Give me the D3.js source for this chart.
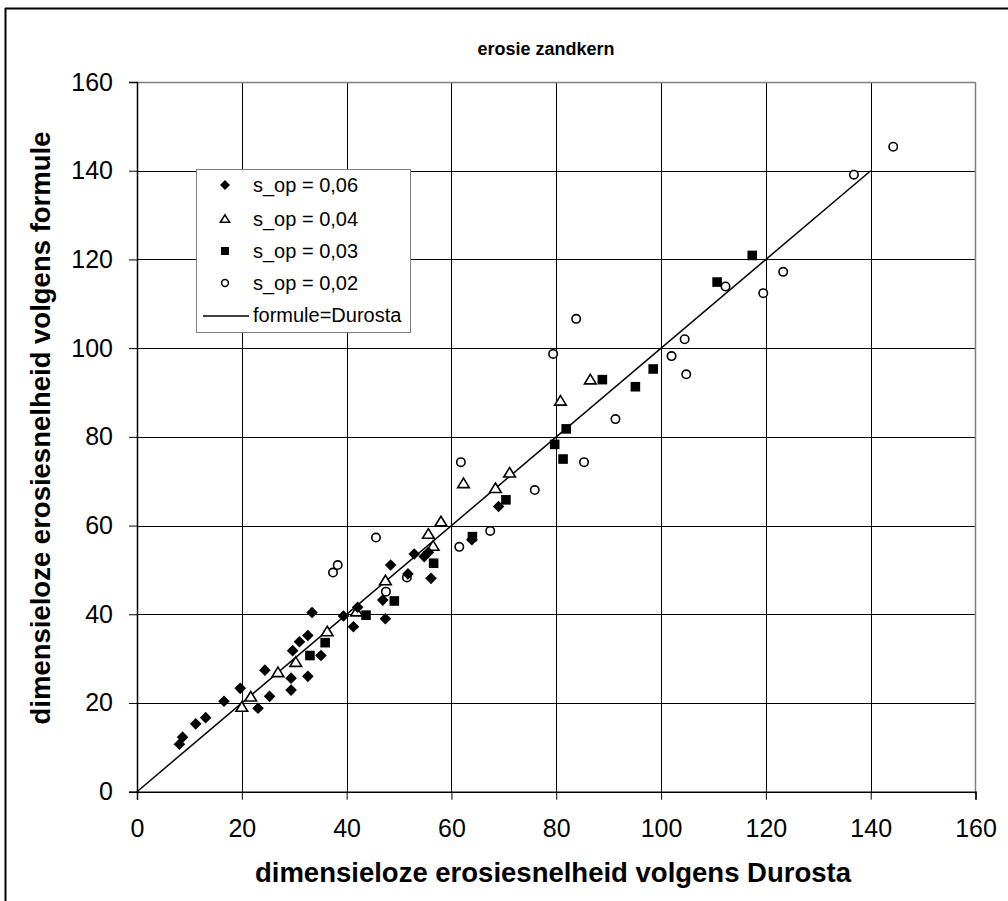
<!DOCTYPE html>
<html>
<head>
<meta charset="utf-8">
<script src="https://cdn.jsdelivr.net/npm/d3@7"></script>
<style>
  html, body { margin: 0; padding: 0; background: #fff; }
  svg { display: block; font-family: "Liberation Sans", Arial, sans-serif; }
</style>
</head>
<body>
<svg id="chart" width="1008" height="901"></svg>
<script>
// Dimensionless erosion rate: formula (y) versus Durosta (x), sand core
const s006 = [[8.1,10.7],[8.7,12.3],[11.2,15.3],[13.1,16.7],[16.6,20.4],[19.7,23.3],[23.1,18.8],[25.3,21.5],[24.4,27.4],[29.4,22.9],[29.4,25.6],[29.7,31.8],[31.0,33.8],[32.6,35.2],[33.4,40.4],[32.6,26.0],[35.1,30.7],[39.4,39.6],[41.3,37.2],[42.1,41.6],[47.4,39.0],[46.9,43.2],[48.4,51.1],[51.7,49.1],[52.9,53.6],[54.8,53.0],[55.6,54.0],[56.1,48.1],[63.9,56.8],[69.0,64.3]];
const s004 = [[20.0,19.1],[21.7,21.4],[26.9,26.9],[30.3,29.2],[36.3,36.1],[41.9,40.6],[47.4,47.6],[55.6,58.1],[56.5,55.4],[58.0,60.9],[62.3,69.5],[68.4,68.4],[71.1,71.9],[80.8,88.1],[86.5,92.9]];
const s003 = [[33.0,30.7],[35.9,33.6],[43.7,39.8],[49.1,43.0],[56.6,51.5],[64.0,57.5],[70.4,65.8],[79.7,78.3],[81.3,75.0],[81.9,81.8],[88.8,92.9],[95.1,91.3],[98.5,95.3],[110.7,114.9],[117.4,120.9]];
const s002 = [[37.4,49.4],[38.3,51.1],[45.6,57.3],[47.5,45.1],[51.5,48.3],[61.5,55.2],[67.4,58.8],[61.8,74.3],[75.9,68.0],[79.4,98.7],[83.8,106.6],[85.3,74.3],[91.3,84.0],[102.0,98.2],[104.5,102.0],[104.8,94.1],[112.3,113.9],[119.5,112.4],[123.3,117.2],[136.8,139.1],[144.3,145.4]];
const equalLine = [[0,0],[140,140]];
const xTicks = [0,20,40,60,80,100,120,140,160];
const yTicks = [0,20,40,60,80,100,120,140,160];
const legendLabels = ["s_op = 0,06","s_op = 0,04","s_op = 0,03","s_op = 0,02","formule=Durosta"];

const svg = d3.select("#chart");
const L = 137, R = 975.5, T = 82, B = 791.7;
const x = d3.scaleLinear().domain([0,160]).range([L,R]);
const y = d3.scaleLinear().domain([0,160]).range([B,T]);

// outer frame (left and top edges visible)
svg.append("line").attr("x1",5.5).attr("x2",5.5).attr("y1",8).attr("y2",901).attr("stroke","#000").attr("stroke-width",2);
svg.append("line").attr("x1",5).attr("x2",1008).attr("y1",8.5).attr("y2",8.5).attr("stroke","#000").attr("stroke-width",2);

// title
svg.append("text").attr("x",546).attr("y",55).attr("text-anchor","middle")
  .attr("font-size",18).attr("font-weight","bold").text("erosie zandkern");

// grid
const g = svg.append("g");
g.selectAll(".vg").data(xTicks.slice(1,-1)).join("line")
  .attr("x1",d=>Math.round(x(d))+0.5).attr("x2",d=>Math.round(x(d))+0.5)
  .attr("y1",T).attr("y2",B).attr("stroke","#000").attr("stroke-width",1);
g.selectAll(".hg").data(yTicks.slice(1,-1)).join("line")
  .attr("y1",d=>Math.round(y(d))+0.5).attr("y2",d=>Math.round(y(d))+0.5)
  .attr("x1",L).attr("x2",R).attr("stroke","#000").attr("stroke-width",1);
// top and right border of plot area
svg.append("line").attr("x1",L).attr("x2",R).attr("y1",T+0.5).attr("y2",T+0.5).attr("stroke","#808080").attr("stroke-width",1.5);
svg.append("line").attr("x1",R).attr("x2",R).attr("y1",T).attr("y2",B).attr("stroke","#808080").attr("stroke-width",1.5);

// axes
const xAxis = d3.axisBottom(x).tickValues(xTicks).tickSize(8).tickPadding(20).tickFormat(d3.format("d"));
const yAxis = d3.axisLeft(y).tickValues(yTicks).tickSize(8).tickPadding(16).tickFormat(d3.format("d"));
const gx = svg.append("g").attr("transform",`translate(0,${B})`).call(xAxis);
const gy = svg.append("g").attr("transform",`translate(${L},0)`).call(yAxis);
[gx,gy].forEach(a=>{
  a.select(".domain").attr("stroke","#000").attr("stroke-width",1.5);
  a.selectAll(".tick line").attr("stroke","#000");
  a.selectAll(".tick text").attr("font-size",25).attr("fill","#000")
    .attr("font-family","'Liberation Sans', Arial, sans-serif");
});
gx.selectAll(".tick text").attr("dy","0.71em");

// axis titles
svg.append("text").attr("x",553).attr("y",882).attr("text-anchor","middle")
  .attr("font-size",27.5).attr("font-weight","bold").text("dimensieloze erosiesnelheid volgens Durosta");
svg.append("text").attr("transform","translate(50,428) rotate(-90)").attr("text-anchor","middle")
  .attr("font-size",27.5).attr("font-weight","bold").text("dimensieloze erosiesnelheid volgens formule");

// reference line formula = Durosta
svg.append("path").datum(equalLine)
  .attr("d", d3.line().x(d=>x(d[0])).y(d=>y(d[1])))
  .attr("fill","none").attr("stroke","#000").attr("stroke-width",1.5);

// marker shapes
function diamond(s){ return `M0,${-s}L${s},0L0,${s}L${-s},0Z`; }
function triangle(s){ return `M0,${-s}L${s*1.1},${s*0.8}L${-s*1.1},${s*0.8}Z`; }
function square(s){ return `M${-s},${-s}H${s}V${s}H${-s}Z`; }

const pts = svg.append("g");
pts.selectAll(".s02").data(s002).join("circle")
  .attr("cx",d=>x(d[0])).attr("cy",d=>y(d[1])).attr("r",4.2)
  .attr("fill","#fff").attr("stroke","#000").attr("stroke-width",1.6);
pts.selectAll(".s03").data(s003).join("path")
  .attr("transform",d=>`translate(${x(d[0])},${y(d[1])})`).attr("d",square(4.8)).attr("fill","#000");
pts.selectAll(".s04").data(s004).join("path")
  .attr("transform",d=>`translate(${x(d[0])},${y(d[1])})`).attr("d",triangle(5.3))
  .attr("fill","#fff").attr("stroke","#000").attr("stroke-width",1.6);
pts.selectAll(".s06").data(s006).join("path")
  .attr("transform",d=>`translate(${x(d[0])},${y(d[1])})`).attr("d",diamond(5.8)).attr("fill","#000");

// legend
const lg = svg.append("g");
lg.append("rect").attr("x",196.5).attr("y",169.5).attr("width",214).attr("height",163)
  .attr("fill","#fff").attr("stroke","#808080").attr("stroke-width",1);
const rowY = [185,219,251,283,315];
lg.selectAll(".lt").data(legendLabels).join("text")
  .attr("x",253).attr("y",(d,i)=>rowY[i]).attr("dy","0.36em")
  .attr("font-size",20).text(d=>d);
lg.append("path").attr("transform",`translate(225,${rowY[0]})`).attr("d",diamond(5)).attr("fill","#000");
lg.append("path").attr("transform",`translate(225,${rowY[1]})`).attr("d",triangle(4.2))
  .attr("fill","#fff").attr("stroke","#000").attr("stroke-width",1.5);
lg.append("path").attr("transform",`translate(225,${rowY[2]})`).attr("d",square(4)).attr("fill","#000");
lg.append("circle").attr("cx",225).attr("cy",rowY[3]).attr("r",3.4)
  .attr("fill","#fff").attr("stroke","#000").attr("stroke-width",1.5);
lg.append("line").attr("x1",203).attr("x2",249).attr("y1",rowY[4]+1).attr("y2",rowY[4]+1)
  .attr("stroke","#000").attr("stroke-width",1.5);
</script>
</body>
</html>
